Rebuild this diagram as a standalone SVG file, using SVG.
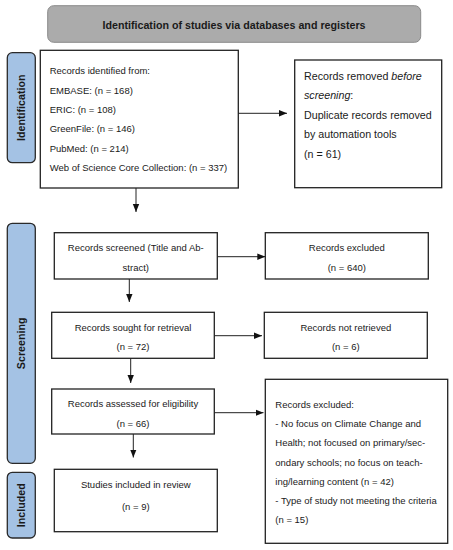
<svg xmlns="http://www.w3.org/2000/svg" width="453" height="550" viewBox="0 0 453 550">
<style>
text{font-family:"Liberation Sans",Arial,sans-serif;fill:#1a1a1a}
.b{fill:#fff;stroke:#222;stroke-width:1.3}
.side{fill:#a4c2e4;stroke:#2a2a2a;stroke-width:1.3}
.lab{font-weight:bold;font-size:10.7px;text-anchor:middle}
.t{font-size:9.5px}
.t2{font-size:10.7px}
.c{text-anchor:middle}
.con line{stroke:#222;stroke-width:1}
</style>
<defs>
<marker id="ah" markerWidth="8" markerHeight="8" refX="8" refY="4" orient="auto" markerUnits="userSpaceOnUse">
<path d="M0,0.8 L8,4 L0,7.2 Z" fill="#111"/>
</marker>
</defs>
<rect width="453" height="550" fill="#fff"/>
<g id="header">
<rect x="47.7" y="5.7" width="373" height="36.6" rx="6" fill="#ababab" stroke="#8a8a8a" stroke-width="1"/>
<text class="lab" x="234" y="28.5">Identification of studies via databases and registers</text>
</g>
<g id="side-identification">
<rect class="side" x="7.3" y="52.7" width="28" height="110" rx="5"/>
<text class="lab" transform="translate(25,107.7) rotate(-90)">Identification</text>
</g>
<g id="side-screening">
<rect class="side" x="7.3" y="223.3" width="28" height="240" rx="5"/>
<text class="lab" transform="translate(25,343.3) rotate(-90)">Screening</text>
</g>
<g id="side-included">
<rect class="side" x="7.3" y="472.3" width="28" height="65.7" rx="5"/>
<text class="lab" transform="translate(25,505.2) rotate(-90)">Included</text>
</g>
<g id="records-identified">
<rect class="b" x="40.3" y="50.3" width="198" height="137.7"/>
<text class="t" x="49.7" y="74.4">Records identified from:</text>
<text class="t" x="49.7" y="93.7">EMBASE: (n = 168)</text>
<text class="t" x="49.7" y="113">ERIC: (n = 108)</text>
<text class="t" x="49.7" y="132.4">GreenFile: (n = 146)</text>
<text class="t" x="49.7" y="151.7">PubMed: (n = 214)</text>
<text class="t" x="49.7" y="171">Web of Science Core Collection: (n = 337)</text>
</g>
<g id="records-removed">
<rect class="b" x="294.7" y="60" width="147" height="127.7"/>
<text class="t2" x="304" y="79.8">Records removed <tspan font-style="italic">before</tspan></text>
<text class="t2" x="304" y="99.1"><tspan font-style="italic">screening</tspan>:</text>
<text class="t2" x="304" y="118.5">Duplicate records removed</text>
<text class="t2" x="304" y="137.8">by automation tools</text>
<text class="t2" x="304" y="157.5">(n = 61)</text>
</g>
<g id="records-screened">
<rect class="b" x="54.3" y="232.7" width="163" height="46.3"/>
<text class="t c" x="135.8" y="251.3">Records screened (Title and Ab-</text>
<text class="t c" x="135.8" y="271">stract)</text>
</g>
<g id="records-excluded-640">
<rect class="b" x="265.3" y="232.7" width="163" height="46.3"/>
<text class="t c" x="346.8" y="251.3">Records excluded</text>
<text class="t c" x="346.8" y="271">(n = 640)</text>
</g>
<g id="records-sought">
<rect class="b" x="51.7" y="312.3" width="162.6" height="46"/>
<text class="t c" x="133" y="330.6">Records sought for retrieval</text>
<text class="t c" x="133" y="350">(n = 72)</text>
</g>
<g id="records-not-retrieved">
<rect class="b" x="264.3" y="312.3" width="163" height="46"/>
<text class="t c" x="345.8" y="330.6">Records not retrieved</text>
<text class="t c" x="345.8" y="350">(n = 6)</text>
</g>
<g id="records-assessed">
<rect class="b" x="51.7" y="389" width="162.6" height="45"/>
<text class="t c" x="133" y="407.3">Records assessed for eligibility</text>
<text class="t c" x="133" y="427">(n = 66)</text>
</g>
<g id="records-excluded-reasons">
<rect class="b" x="265.3" y="379.3" width="182.4" height="164"/>
<text class="t" x="275.3" y="408.3">Records excluded:</text>
<text class="t" x="275.3" y="427">- No focus on Climate Change and</text>
<text class="t" x="275.3" y="446.3">Health; not focused on primary/sec-</text>
<text class="t" x="275.3" y="465.6">ondary schools; no focus on teach-</text>
<text class="t" x="275.3" y="484.6">ing/learning content (n = 42)</text>
<text class="t" x="275.3" y="504">- Type of study not meeting the criteria</text>
<text class="t" x="275.3" y="523.3">(n = 15)</text>
</g>
<g id="studies-included">
<rect class="b" x="54.3" y="469.3" width="163" height="62.4"/>
<text class="t c" x="135.8" y="487.6">Studies included in review</text>
<text class="t c" x="135.8" y="509.6">(n = 9)</text>
</g>
<g id="connectors" class="con">
<line x1="238.3" y1="113.3" x2="287" y2="113.3" marker-end="url(#ah)"/>
<line x1="136" y1="188" x2="136" y2="212" marker-end="url(#ah)"/>
<line x1="217.3" y1="256.7" x2="265.3" y2="256.7" marker-end="url(#ah)"/>
<line x1="129.3" y1="279" x2="129.3" y2="302" marker-end="url(#ah)"/>
<line x1="214.3" y1="335.7" x2="262" y2="335.7" marker-end="url(#ah)"/>
<line x1="130.7" y1="358.3" x2="130.7" y2="383" marker-end="url(#ah)"/>
<line x1="214.3" y1="412.7" x2="263.5" y2="412.7" marker-end="url(#ah)"/>
<line x1="133.3" y1="434" x2="133.3" y2="457.5" marker-end="url(#ah)"/>
</g>
</svg>
